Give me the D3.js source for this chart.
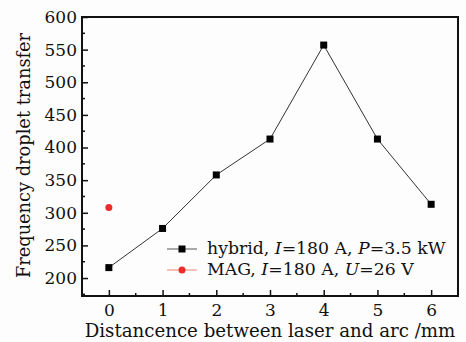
<!DOCTYPE html>
<html>
<head>
<meta charset="utf-8">
<script src="https://d3js.org/d3.v7.min.js"></script>
<style>
  body { margin: 0; background: #fdfdfd; }
  text { font-family: "DejaVu Serif", serif; fill: #111; }
</style>
</head>
<body>
<div id="chart"></div>
<script>
// data
const distances = [0, 1, 2, 3, 4, 5, 6];
const hybridFreq = [216, 276, 358, 413, 557, 413, 313];
const magDistances = [0];
const magFreq = [308];
const xTicks = [0, 1, 2, 3, 4, 5, 6];
const yTicks = [200, 250, 300, 350, 400, 450, 500, 550, 600];

const width = 466, height = 342;
const margin = { top: 17, right: 8, bottom: 46, left: 82 };
const innerW = width - margin.left - margin.right;
const innerH = height - margin.top - margin.bottom;

const svg = d3.select('#chart')
    .append('svg')
    .attr('width', width)
    .attr('height', height);

const g = svg.append('g')
    .attr('transform', `translate(${margin.left},${margin.top})`);

const x = d3.scaleLinear().domain([-0.5, 6.5]).range([0, innerW]);
const y = d3.scaleLinear().domain([172.5, 600]).range([innerH, 0]);

// minor ticks (inside)
const minorX = d3.range(-0.5, 6.51, 0.5).filter(v => !xTicks.includes(v) && v > -0.5 && v < 6.5);
g.selectAll('.minor-x').data(minorX).join('line')
    .attr('x1', d => x(d)).attr('x2', d => x(d))
    .attr('y1', innerH).attr('y2', innerH - 3)
    .attr('stroke', '#111').attr('stroke-width', 1.5);

const minorY = d3.range(175, 600, 25).filter(v => !yTicks.includes(v));
g.selectAll('.minor-y').data(minorY).join('line')
    .attr('x1', 0).attr('x2', 3)
    .attr('y1', d => y(d)).attr('y2', d => y(d))
    .attr('stroke', '#111').attr('stroke-width', 1.5);

// axes with inward ticks
const xAxis = g.append('g')
    .attr('transform', `translate(0,${innerH})`)
    .call(d3.axisBottom(x).tickValues(xTicks).tickFormat(d3.format('d'))
        .tickSize(-6).tickPadding(8).tickSizeOuter(0));
const yAxis = g.append('g')
    .call(d3.axisLeft(y).tickValues(yTicks).tickFormat(d3.format('d'))
        .tickSize(-6).tickPadding(5).tickSizeOuter(0));

[xAxis, yAxis].forEach(ax => {
    ax.select('.domain').remove();
    ax.selectAll('.tick line').attr('stroke', '#111').attr('stroke-width', 1.5);
    ax.selectAll('.tick text')
        .style('font-family', '"DejaVu Serif", serif')
        .style('font-size', '17px')
        .attr('fill', '#111');
});

// frame
g.append('rect')
    .attr('x', 0).attr('y', 0)
    .attr('width', innerW).attr('height', innerH)
    .attr('fill', 'none')
    .attr('stroke', '#111')
    .attr('stroke-width', 2);

// hybrid series
const line = d3.line()
    .x((d, i) => x(distances[i]))
    .y(d => y(d));

g.append('path')
    .datum(hybridFreq)
    .attr('d', line)
    .attr('fill', 'none')
    .attr('stroke', '#333')
    .attr('stroke-width', 1);

g.selectAll('.hyb').data(hybridFreq).join('rect')
    .attr('x', (d, i) => x(distances[i]) - 3.5)
    .attr('y', d => y(d) - 3.5)
    .attr('width', 7).attr('height', 7)
    .attr('fill', '#000');

// MAG series
g.selectAll('.mag').data(magFreq).join('circle')
    .attr('cx', (d, i) => x(magDistances[i]))
    .attr('cy', d => y(d))
    .attr('r', 3.5)
    .attr('fill', '#ee2a2a');

// legend
const legend = svg.append('g');
const legItems = [
    { color: '#555', mark: 'square', parts: [['hybrid, ', false], ['I', true], ['=180 A, ', false], ['P', true], ['=3.5 kW', false]] },
    { color: '#f08070', mark: 'circle', parts: [['MAG, ', false], ['I', true], ['=180 A, ', false], ['U', true], ['=26 V', false]] }
];
legItems.forEach((item, i) => {
    const ly = 249 + i * 21;
    legend.append('line')
        .attr('x1', 167).attr('x2', 197)
        .attr('y1', ly).attr('y2', ly)
        .attr('stroke', item.color).attr('stroke-width', 1);
    if (item.mark === 'square') {
        legend.append('rect')
            .attr('x', 178.5).attr('y', ly - 3.5)
            .attr('width', 7).attr('height', 7)
            .attr('fill', '#000');
    } else {
        legend.append('circle')
            .attr('cx', 182).attr('cy', ly)
            .attr('r', 3.5).attr('fill', '#ee2a2a');
    }
    const t = legend.append('text')
        .attr('x', 207).attr('y', ly + 5)
        .style('font-size', '17.3px');
    item.parts.forEach(p => {
        t.append('tspan').text(p[0]).style('font-style', p[1] ? 'italic' : 'normal');
    });
});

// axis titles
svg.append('text')
    .attr('x', margin.left + innerW / 2)
    .attr('y', 337)
    .attr('text-anchor', 'middle')
    .style('font-size', '18.2px')
    .text('Distancence between laser and arc /mm');

svg.append('text')
    .attr('transform', `translate(30,${margin.top + innerH / 2 - 1}) rotate(-90)`)
    .attr('text-anchor', 'middle')
    .style('font-size', '17.8px')
    .text('Frequency droplet transfer');
</script>
</body>
</html>
